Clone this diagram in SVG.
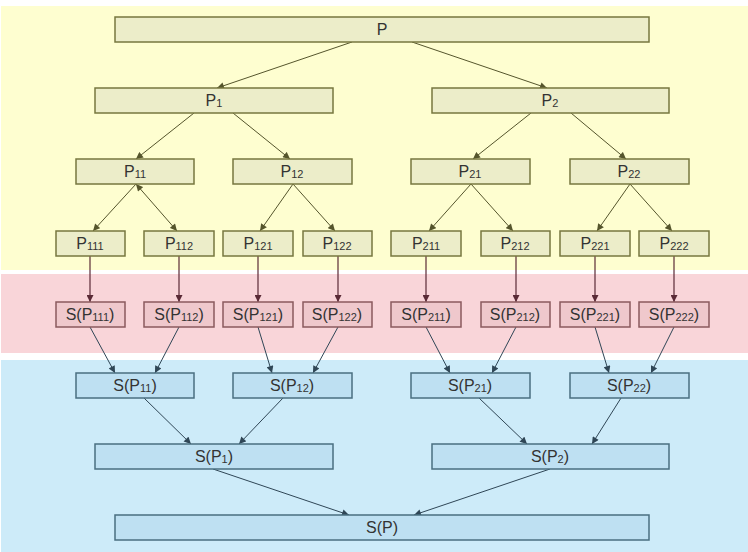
<svg xmlns="http://www.w3.org/2000/svg" width="748" height="552" viewBox="0 0 748 552">
<style>
text{font-family:"Liberation Sans",Arial,sans-serif;font-size:16px;fill:#333;text-anchor:middle}
.sb{font-size:11px}
.y rect{fill:#ECEDC9;stroke:#77773F;stroke-width:1.5}
.r rect{fill:#EFC8CC;stroke:#8A5A5E;stroke-width:1.5}
.b rect{fill:#BEE0F2;stroke:#4A6F80;stroke-width:1.5}
.ly{stroke:#55552C;stroke-width:1;fill:none;marker-end:url(#ay)}
.lr{stroke:#5A2A36;stroke-width:1.2;fill:none;marker-end:url(#ar)}
.lb{stroke:#2F4656;stroke-width:1;fill:none;marker-end:url(#ab)}
</style>
<defs>
<marker id="ay" viewBox="0 0 10 10" refX="10" refY="5" markerWidth="8" markerHeight="7" markerUnits="userSpaceOnUse" orient="auto-start-reverse"><path d="M0,0L10,5L0,10z" fill="#55552C"/></marker>
<marker id="ar" viewBox="0 0 10 10" refX="10" refY="5" markerWidth="8" markerHeight="7" markerUnits="userSpaceOnUse" orient="auto"><path d="M0,0L10,5L0,10z" fill="#5A2A36"/></marker>
<marker id="ab" viewBox="0 0 10 10" refX="10" refY="5" markerWidth="8" markerHeight="7" markerUnits="userSpaceOnUse" orient="auto"><path d="M0,0L10,5L0,10z" fill="#2F4656"/></marker>
</defs>
<rect width="748" height="552" fill="#fff"/>
<rect x="1" y="6" width="747" height="264" fill="#FEFED0"/>
<rect x="1" y="274" width="747" height="79" fill="#F9D5D9"/>
<rect x="1" y="360" width="747" height="192" fill="#CDEBF9"/>

<g id="connectors">
<line class="ly" x1="352" y1="42" x2="217" y2="88"/>
<line class="ly" x1="412" y1="42" x2="547" y2="88"/>
<line class="ly" x1="194" y1="113" x2="136" y2="159"/>
<line class="ly" x1="233" y1="113" x2="290" y2="159"/>
<line class="ly" x1="531" y1="113" x2="473" y2="159"/>
<line class="ly" x1="571" y1="113" x2="626" y2="159"/>
<line class="ly" x1="136" y1="184" x2="93" y2="231"/>
<line class="ly" x1="136" y1="184" x2="177" y2="231" style="marker-start:url(#ay)"/>
<line class="ly" x1="293" y1="184" x2="260" y2="231"/>
<line class="ly" x1="293" y1="184" x2="335" y2="231"/>
<line class="ly" x1="471" y1="184" x2="429" y2="231"/>
<line class="ly" x1="471" y1="184" x2="513" y2="231"/>
<line class="ly" x1="630" y1="184" x2="597" y2="231"/>
<line class="ly" x1="630" y1="184" x2="672" y2="231"/>
<line class="lr" x1="90" y1="256" x2="90" y2="302"/>
<line class="lr" x1="179" y1="256" x2="179" y2="302"/>
<line class="lr" x1="258" y1="256" x2="258" y2="302"/>
<line class="lr" x1="338" y1="256" x2="338" y2="302"/>
<line class="lr" x1="426" y1="256" x2="426" y2="302"/>
<line class="lr" x1="516" y1="256" x2="516" y2="302"/>
<line class="lr" x1="595" y1="256" x2="595" y2="302"/>
<line class="lr" x1="674" y1="256" x2="674" y2="302"/>
<line class="lb" x1="90" y1="327" x2="115" y2="373"/>
<line class="lb" x1="179" y1="327" x2="155" y2="373"/>
<line class="lb" x1="258" y1="327" x2="272" y2="373"/>
<line class="lb" x1="338" y1="327" x2="313" y2="373"/>
<line class="lb" x1="426" y1="327" x2="450" y2="373"/>
<line class="lb" x1="516" y1="327" x2="492" y2="373"/>
<line class="lb" x1="595" y1="327" x2="609" y2="373"/>
<line class="lb" x1="674" y1="327" x2="651" y2="373"/>
<line class="lb" x1="144" y1="398" x2="191" y2="444"/>
<line class="lb" x1="283" y1="398" x2="239" y2="444"/>
<line class="lb" x1="479" y1="398" x2="527" y2="444"/>
<line class="lb" x1="621" y1="398" x2="592" y2="444"/>
<line class="lb" x1="213" y1="469" x2="349" y2="515"/>
<line class="lb" x1="550" y1="469" x2="414" y2="515"/>
</g>

<g id="P" class="y"><rect x="115" y="17" width="534" height="25"/><text x="382" y="35">P</text></g>
<g id="P1" class="y"><rect x="95" y="88" width="238" height="25"/><text x="214" y="106">P<tspan class="sb" dy="1">1</tspan></text></g>
<g id="P2" class="y"><rect x="432" y="88" width="237" height="25"/><text x="550" y="106">P<tspan class="sb" dy="1">2</tspan></text></g>
<g id="P11" class="y"><rect x="76" y="159" width="118" height="25"/><text x="135" y="177">P<tspan class="sb" dy="1">11</tspan></text></g>
<g id="P12" class="y"><rect x="233" y="159" width="119" height="25"/><text x="292" y="177">P<tspan class="sb" dy="1">12</tspan></text></g>
<g id="P21" class="y"><rect x="411" y="159" width="119" height="25"/><text x="470" y="177">P<tspan class="sb" dy="1">21</tspan></text></g>
<g id="P22" class="y"><rect x="570" y="159" width="119" height="25"/><text x="629" y="177">P<tspan class="sb" dy="1">22</tspan></text></g>
<g id="P111" class="y"><rect x="56" y="231" width="69" height="25"/><text x="90" y="249">P<tspan class="sb" dy="1">111</tspan></text></g>
<g id="P112" class="y"><rect x="144" y="231" width="70" height="25"/><text x="179" y="249">P<tspan class="sb" dy="1">112</tspan></text></g>
<g id="P121" class="y"><rect x="223" y="231" width="70" height="25"/><text x="258" y="249">P<tspan class="sb" dy="1">121</tspan></text></g>
<g id="P122" class="y"><rect x="303" y="231" width="69" height="25"/><text x="337" y="249">P<tspan class="sb" dy="1">122</tspan></text></g>
<g id="P211" class="y"><rect x="391" y="231" width="70" height="25"/><text x="426" y="249">P<tspan class="sb" dy="1">211</tspan></text></g>
<g id="P212" class="y"><rect x="481" y="231" width="69" height="25"/><text x="515" y="249">P<tspan class="sb" dy="1">212</tspan></text></g>
<g id="P221" class="y"><rect x="560" y="231" width="70" height="25"/><text x="595" y="249">P<tspan class="sb" dy="1">221</tspan></text></g>
<g id="P222" class="y"><rect x="639" y="231" width="70" height="25"/><text x="674" y="249">P<tspan class="sb" dy="1">222</tspan></text></g>

<g id="SP111" class="r"><rect x="56" y="302" width="69" height="25"/><text x="90" y="320">S(P<tspan class="sb" dy="1">111</tspan><tspan dy="-1">)</tspan></text></g>
<g id="SP112" class="r"><rect x="144" y="302" width="70" height="25"/><text x="179" y="320">S(P<tspan class="sb" dy="1">112</tspan><tspan dy="-1">)</tspan></text></g>
<g id="SP121" class="r"><rect x="223" y="302" width="70" height="25"/><text x="258" y="320">S(P<tspan class="sb" dy="1">121</tspan><tspan dy="-1">)</tspan></text></g>
<g id="SP122" class="r"><rect x="303" y="302" width="69" height="25"/><text x="337" y="320">S(P<tspan class="sb" dy="1">122</tspan><tspan dy="-1">)</tspan></text></g>
<g id="SP211" class="r"><rect x="391" y="302" width="70" height="25"/><text x="426" y="320">S(P<tspan class="sb" dy="1">211</tspan><tspan dy="-1">)</tspan></text></g>
<g id="SP212" class="r"><rect x="481" y="302" width="69" height="25"/><text x="515" y="320">S(P<tspan class="sb" dy="1">212</tspan><tspan dy="-1">)</tspan></text></g>
<g id="SP221" class="r"><rect x="560" y="302" width="70" height="25"/><text x="595" y="320">S(P<tspan class="sb" dy="1">221</tspan><tspan dy="-1">)</tspan></text></g>
<g id="SP222" class="r"><rect x="639" y="302" width="70" height="25"/><text x="674" y="320">S(P<tspan class="sb" dy="1">222</tspan><tspan dy="-1">)</tspan></text></g>

<g id="SP11" class="b"><rect x="76" y="373" width="118" height="25"/><text x="135" y="391">S(P<tspan class="sb" dy="1">11</tspan><tspan dy="-1">)</tspan></text></g>
<g id="SP12" class="b"><rect x="233" y="373" width="119" height="25"/><text x="292" y="391">S(P<tspan class="sb" dy="1">12</tspan><tspan dy="-1">)</tspan></text></g>
<g id="SP21" class="b"><rect x="411" y="373" width="119" height="25"/><text x="470" y="391">S(P<tspan class="sb" dy="1">21</tspan><tspan dy="-1">)</tspan></text></g>
<g id="SP22" class="b"><rect x="570" y="373" width="119" height="25"/><text x="629" y="391">S(P<tspan class="sb" dy="1">22</tspan><tspan dy="-1">)</tspan></text></g>
<g id="SP1" class="b"><rect x="95" y="444" width="238" height="25"/><text x="214" y="462">S(P<tspan class="sb" dy="1">1</tspan><tspan dy="-1">)</tspan></text></g>
<g id="SP2" class="b"><rect x="432" y="444" width="237" height="25"/><text x="550" y="462">S(P<tspan class="sb" dy="1">2</tspan><tspan dy="-1">)</tspan></text></g>
<g id="SP" class="b"><rect x="115" y="515" width="534" height="25"/><text x="382" y="533">S(P)</text></g>
</svg>
